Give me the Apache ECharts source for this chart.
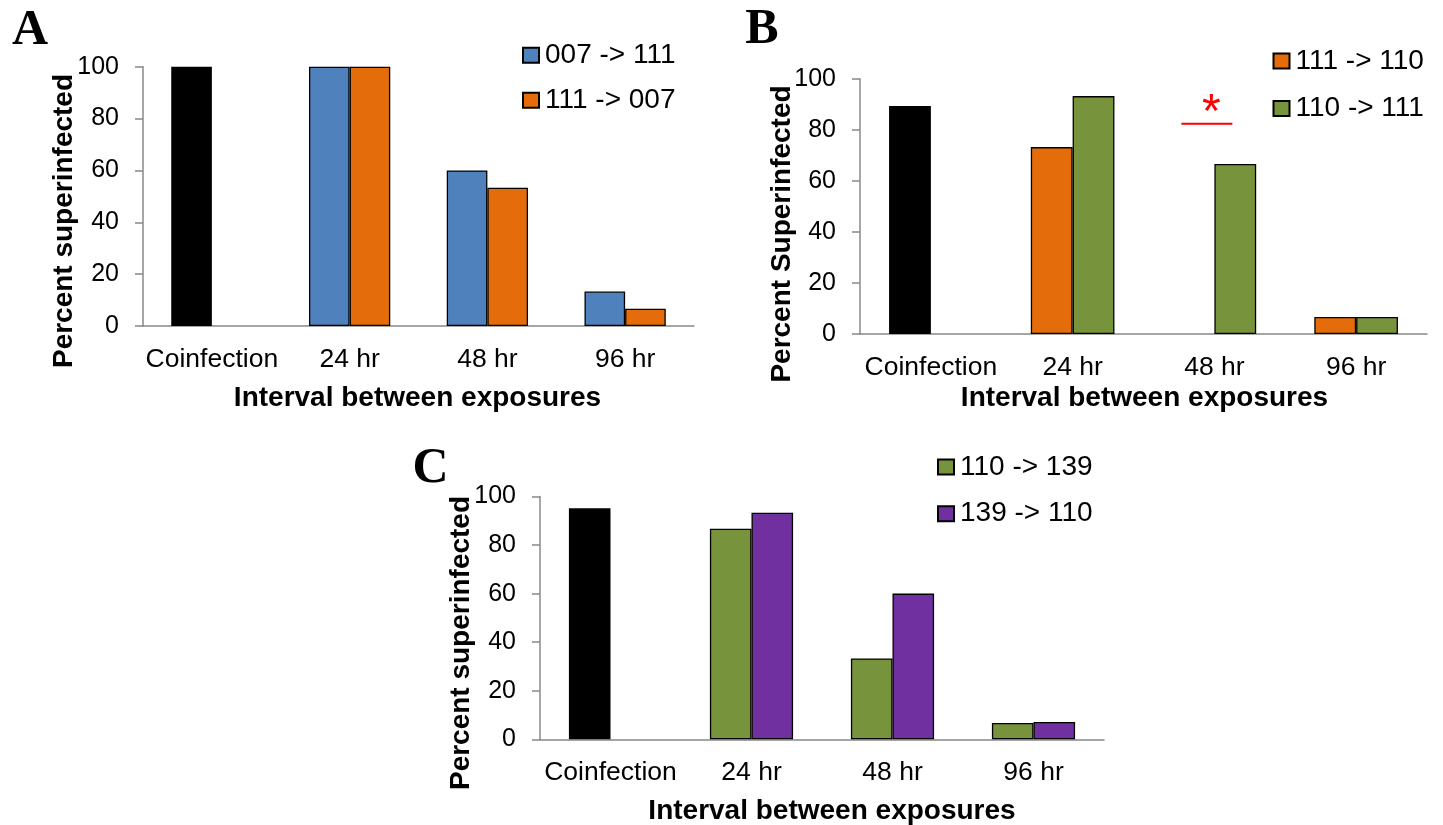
<!DOCTYPE html>
<html>
<head>
<meta charset="utf-8">
<title>Superinfection by interval between exposures</title>
<script src="https://cdn.jsdelivr.net/npm/echarts@6/dist/echarts.min.js"></script>
<style>
  html, body { margin: 0; padding: 0; background: #fff; }
  #chart { width: 1443px; height: 825px; }
</style>
</head>
<body>
<div id="chart"></div>
<script>
// Shared category axis and value-axis ticks
const categories = ['Coinfection', '24 hr', '48 hr', '96 hr'];
const yMin = 0;
const yMax = 100;
const yStep = 20;

// Panel A
const aNames = ['007 -> 111', '111 -> 007'];
const aFirst = [100, 100, 60, 13.3];
const aSecond = [null, 100, 53.3, 6.7];

// Panel B
const bNames = ['111 -> 110', '110 -> 111'];
const bFirst = [89.4, 73.3, 0, 6.7];
const bSecond = [null, 93.3, 66.7, 6.7];

// Panel C
const cNames = ['110 -> 139', '139 -> 110'];
const cFirst = [95.2, 86.7, 33.3, 6.7];
const cSecond = [null, 93.3, 60, 7.1];

// Panel titles
const panelLetters = ['A', 'B', 'C'];
const yTitles = ['Percent superinfected', 'Percent Superinfected', 'Percent superinfected'];
const xTitle = 'Interval between exposures';

const SANS = '"Liberation Sans", Arial, sans-serif';
const SERIF = '"Liberation Serif", "Times New Roman", serif';
const AXIS_GREY = '#888888';

const COLORS = {
  blue: '#4F81BD',
  orange: '#E46C0A',
  green: '#77933C',
  purple: '#7030A0',
  black: '#000000'
};

const grids = [
  { left: 143, top: 66.7, width: 551, height: 259.3 },
  { left: 860, top: 79, width: 567, height: 255 },
  { left: 540, top: 496.5, width: 564, height: 242.8 }
];

function xAxisFor(i) {
  return {
    type: 'category',
    gridIndex: i,
    data: categories,
    axisLine: { show: true, lineStyle: { color: AXIS_GREY, width: 1.5 } },
    axisTick: { show: false },
    axisLabel: { color: '#000', fontSize: 26.5, fontFamily: SANS, margin: 20, interval: 0 },
    splitLine: { show: false }
  };
}

function yAxisFor(i) {
  return {
    type: 'value',
    gridIndex: i,
    min: yMin,
    max: yMax,
    interval: yStep,
    axisLine: { show: true, lineStyle: { color: AXIS_GREY, width: 1.5 } },
    axisTick: { show: true, inside: false, length: 8, lineStyle: { color: AXIS_GREY, width: 1.5 } },
    axisLabel: { color: '#000', fontSize: 25, fontFamily: SANS, margin: 24 },
    splitLine: { show: false }
  };
}

// Empty groups (value 0) get no outline so nothing shows along the axis
function styled(values, controlFirst) {
  return values.map((v, idx) => {
    if (controlFirst && idx === 0) {
      // coinfection control, drawn in black
      return { value: v, itemStyle: { color: COLORS.black, borderWidth: 0 } };
    }
    if (v === 0) {
      return { value: v, itemStyle: { borderWidth: 0 } };
    }
    return v;
  });
}

function barSeries(name, values, color, panel) {
  return {
    type: 'bar',
    name: name,
    xAxisIndex: panel,
    yAxisIndex: panel,
    data: values,
    barGap: '0%',
    barCategoryGap: '41%',
    itemStyle: { color: color, borderColor: '#000', borderWidth: 1.3 },
    emphasis: { disabled: true },
    animation: false
  };
}

function legendFor(names, left, top, gap) {
  return {
    orient: 'vertical',
    left: left,
    top: top,
    padding: 0,
    data: names,
    icon: 'rect',
    itemWidth: 16,
    itemHeight: 15,
    itemGap: gap,
    selectedMode: false,
    textStyle: { color: '#000', fontSize: 28, fontFamily: SANS, padding: [0, 0, 0, 1] }
  };
}

function textEl(text, x, y, size, family, rotate) {
  return {
    type: 'text',
    x: x,
    y: y,
    rotation: rotate ? Math.PI / 2 : 0,
    style: {
      text: text,
      fill: '#000',
      font: 'bold ' + size + 'px ' + family,
      textAlign: 'center',
      textVerticalAlign: 'middle'
    }
  };
}

const chart = echarts.init(document.getElementById('chart'), null, { renderer: 'canvas' });

const option = {
  backgroundColor: '#ffffff',
  animation: false,
  grid: grids.map(g => Object.assign({ containLabel: false }, g)),
  xAxis: [xAxisFor(0), xAxisFor(1), xAxisFor(2)],
  yAxis: [yAxisFor(0), yAxisFor(1), yAxisFor(2)],
  legend: [
    legendFor(aNames, 522, 41.3, 17),
    legendFor(bNames, 1272.5, 47, 19.5),
    legendFor(cNames, 937, 453, 18.7)
  ],
  series: [
    barSeries(aNames[0], styled(aFirst, true), COLORS.blue, 0),
    barSeries(aNames[1], styled(aSecond, false), COLORS.orange, 0),
    barSeries(bNames[0], styled(bFirst, true), COLORS.orange, 1),
    barSeries(bNames[1], styled(bSecond, false), COLORS.green, 1),
    barSeries(cNames[0], styled(cFirst, true), COLORS.green, 2),
    barSeries(cNames[1], styled(cSecond, false), COLORS.purple, 2)
  ],
  graphic: [
    textEl(panelLetters[0], 30, 31, 50, SERIF, false),
    textEl(panelLetters[1], 762, 30, 50, SERIF, false),
    textEl(panelLetters[2], 430.5, 469, 50, SERIF, false),
    textEl(yTitles[0], 64.5, 221, 28, SANS, true),
    textEl(yTitles[1], 782, 234, 28, SANS, true),
    textEl(yTitles[2], 461, 643, 28, SANS, true),
    textEl(xTitle, 417.5, 398, 28, SANS, false),
    textEl(xTitle, 1144.5, 398, 28, SANS, false),
    textEl(xTitle, 832, 811, 28, SANS, false)
  ]
};

chart.setOption(option);

// Significance marker above the 48 hr group of panel B
const sigLevel = 82.5;
const starLevel = 89.5;
const lineAt = chart.convertToPixel({ xAxisIndex: 1, yAxisIndex: 1 }, ['48 hr', sigLevel]);
const starAt = chart.convertToPixel({ xAxisIndex: 1, yAxisIndex: 1 }, ['48 hr', starLevel]);
chart.setOption({
  graphic: option.graphic.concat([
    {
      type: 'line',
      shape: { x1: lineAt[0] - 33, y1: lineAt[1], x2: lineAt[0] + 18, y2: lineAt[1] },
      style: { stroke: '#FF0000', lineWidth: 2 }
    },
    {
      type: 'text',
      x: starAt[0] - 3,
      y: starAt[1] + 8,
      style: {
        text: '*',
        fill: '#FF0000',
        font: '48px ' + SANS,
        textAlign: 'center',
        textVerticalAlign: 'middle'
      }
    }
  ])
});
</script>
</body>
</html>
